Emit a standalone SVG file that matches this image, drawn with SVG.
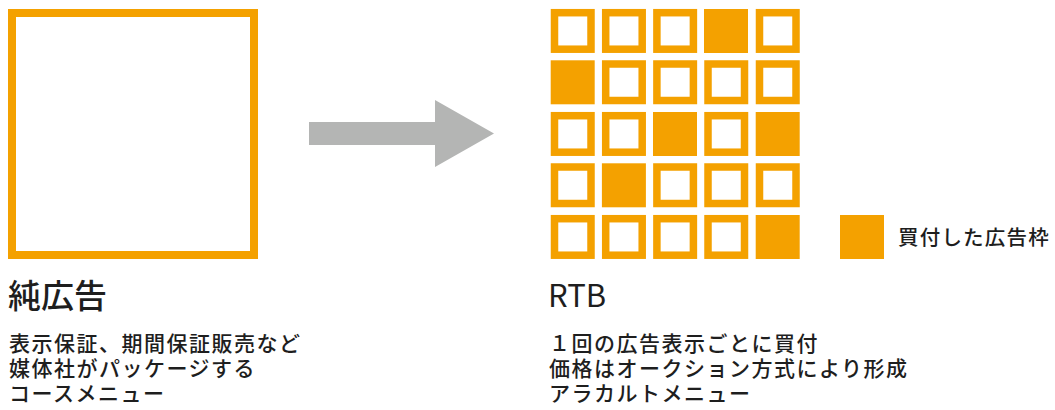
<svg xmlns="http://www.w3.org/2000/svg" width="1055" height="410" viewBox="0 0 1055 410">
<style>
.cell{fill:none;stroke:#f4a100;stroke-width:7.5}
.full{fill:#f4a100}
.t{font-family:"Noto Sans CJK JP","Noto Sans",sans-serif;fill:#1e1e1e}
.h{font-size:31px;font-weight:500}
.b{font-size:21px;font-weight:500;letter-spacing:1.5px}
</style>
<rect width="1055" height="410" fill="#ffffff"/>
<g id="pure-ad">
<rect x="12" y="13" width="242" height="242" fill="none" stroke="#f4a100" stroke-width="8"/>
</g>
<g id="connectors">
<polygon points="309,122 435,122 435,100 494,133.5 435,167 435,145 309,145" fill="#b4b5b4"/>
</g>
<g id="rtb-grid">
<rect class="cell" x="554.5" y="12.7" width="36.5" height="36.5"/>
<rect class="cell" x="605.7" y="12.7" width="36.5" height="36.5"/>
<rect class="cell" x="656.9" y="12.7" width="36.5" height="36.5"/>
<rect class="full" x="704" y="9" width="44" height="44"/>
<rect class="cell" x="759.5" y="12.7" width="36.5" height="36.5"/>

<rect class="full" x="550.7" y="60.3" width="44" height="44"/>
<rect class="cell" x="605.7" y="64" width="36.5" height="36.5"/>
<rect class="cell" x="656.9" y="64" width="36.5" height="36.5"/>
<rect class="cell" x="708" y="64" width="36.5" height="36.5"/>
<rect class="cell" x="759.5" y="64" width="36.5" height="36.5"/>

<rect class="cell" x="554.5" y="115.7" width="36.5" height="36.5"/>
<rect class="cell" x="605.7" y="115.7" width="36.5" height="36.5"/>
<rect class="full" x="653" y="112" width="44" height="44"/>
<rect class="cell" x="708" y="115.7" width="36.5" height="36.5"/>
<rect class="full" x="755.7" y="112" width="44" height="44"/>

<rect class="cell" x="554.5" y="167" width="36.5" height="36.5"/>
<rect class="full" x="601.9" y="163.3" width="44" height="44"/>
<rect class="cell" x="656.9" y="167" width="36.5" height="36.5"/>
<rect class="cell" x="708" y="167" width="36.5" height="36.5"/>
<rect class="cell" x="759.5" y="167" width="36.5" height="36.5"/>

<rect class="cell" x="554.5" y="218.7" width="36.5" height="36.5"/>
<rect class="cell" x="605.7" y="218.7" width="36.5" height="36.5"/>
<rect class="cell" x="656.9" y="218.7" width="36.5" height="36.5"/>
<rect class="cell" x="708" y="218.7" width="36.5" height="36.5"/>
<rect class="full" x="755.7" y="215" width="44" height="44"/>
</g>
<g id="legend">
<rect class="full" x="840" y="215" width="44" height="44"/>
<text class="t b" x="898" y="245" style="font-size:20.5px;letter-spacing:1.2px">買付した広告枠</text>
</g>
<g id="pure-ad-label">
<text class="t h" x="8" y="308" style="font-size:33px">純広告</text>
<text class="t b" x="9" y="351">表示保証、期間保証販売など</text>
<text class="t b" x="9" y="376">媒体社がパッケージする</text>
<text class="t b" x="9" y="401">コースメニュー</text>
</g>
<g id="rtb-label">
<text class="t h" x="548" y="307" style="font-weight:400">RTB</text>
<text class="t b" x="549" y="351">１回の広告表示ごとに買付</text>
<text class="t b" x="549" y="376">価格はオークション方式により形成</text>
<text class="t b" x="549" y="401">アラカルトメニュー</text>
</g>
</svg>
